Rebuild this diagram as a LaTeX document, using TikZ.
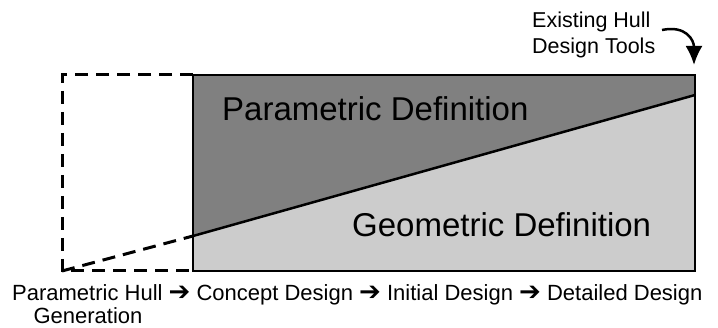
\documentclass[tikz,border=0pt]{standalone}
\usepackage{fontspec}
\setmainfont{Liberation Sans}
\newfontfamily\arrowfont{DejaVu Sans}
\usetikzlibrary{arrows.meta}
\definecolor{paramgray}{HTML}{808080}
\definecolor{geomgray}{HTML}{CCCCCC}
\newcommand{\flowarrow}{{\arrowfont\bfseries\fontsize{26}{26}\selectfont ➔}}
\begin{document}
\begin{tikzpicture}[x=1pt, y=-1pt, >={Latex[length=19pt,width=17pt]}]
\useasboundingbox (0,0) rectangle (718,328);
% hull box
\coordinate (tl) at (193,75);
\coordinate (tr) at (695,75);
\coordinate (br) at (695,271);
\coordinate (bl) at (193,271);
\coordinate (dl) at (193,236);
\coordinate (dr) at (695,95);
\fill[paramgray] (tl) -- (tr) -- (dr) -- (dl) -- cycle;
\fill[geomgray] (dl) -- (dr) -- (br) -- (bl) -- cycle;
\draw[line width=2.5pt] (dl) -- (dr);
\draw[line width=2pt] (tl) rectangle (br);
% parametric hull generation
\draw[line width=3pt, dash pattern=on 13pt off 8pt] (tl) -- (62,75) -- (62,271) -- (bl);
\draw[line width=3pt, dash pattern=on 13pt off 8pt] (62,271) -- (dl);
\node[anchor=base west, inner sep=0, font=\fontsize{33}{40}\selectfont] (param) at (222,121) {Parametric Definition};
\node[anchor=base west, inner sep=0, font=\fontsize{33}{40}\selectfont] (geom) at (352,237) {Geometric Definition};
% existing tools
\node[anchor=north west, inner sep=0, align=left, font=\fontsize{21.5}{25.4}\selectfont] (tools) at (532,12) {Existing Hull\\Design Tools};
\coordinate (tail) at (662,30);
\coordinate (tip) at (694,65);
\draw[->, line width=2.5pt] (tail) .. controls (686,25) and (694,40) .. (tip);
% design stages
\node[anchor=base west, inner sep=0, font=\fontsize{22}{23}\selectfont] (flow) at (12,301) {Parametric Hull \flowarrow{} Concept Design \flowarrow{} Initial Design \flowarrow{} Detailed Design};
\node[anchor=base, inner sep=0, font=\fontsize{22}{23}\selectfont] (gen) at (88,324) {Generation};
\end{tikzpicture}
\end{document}
